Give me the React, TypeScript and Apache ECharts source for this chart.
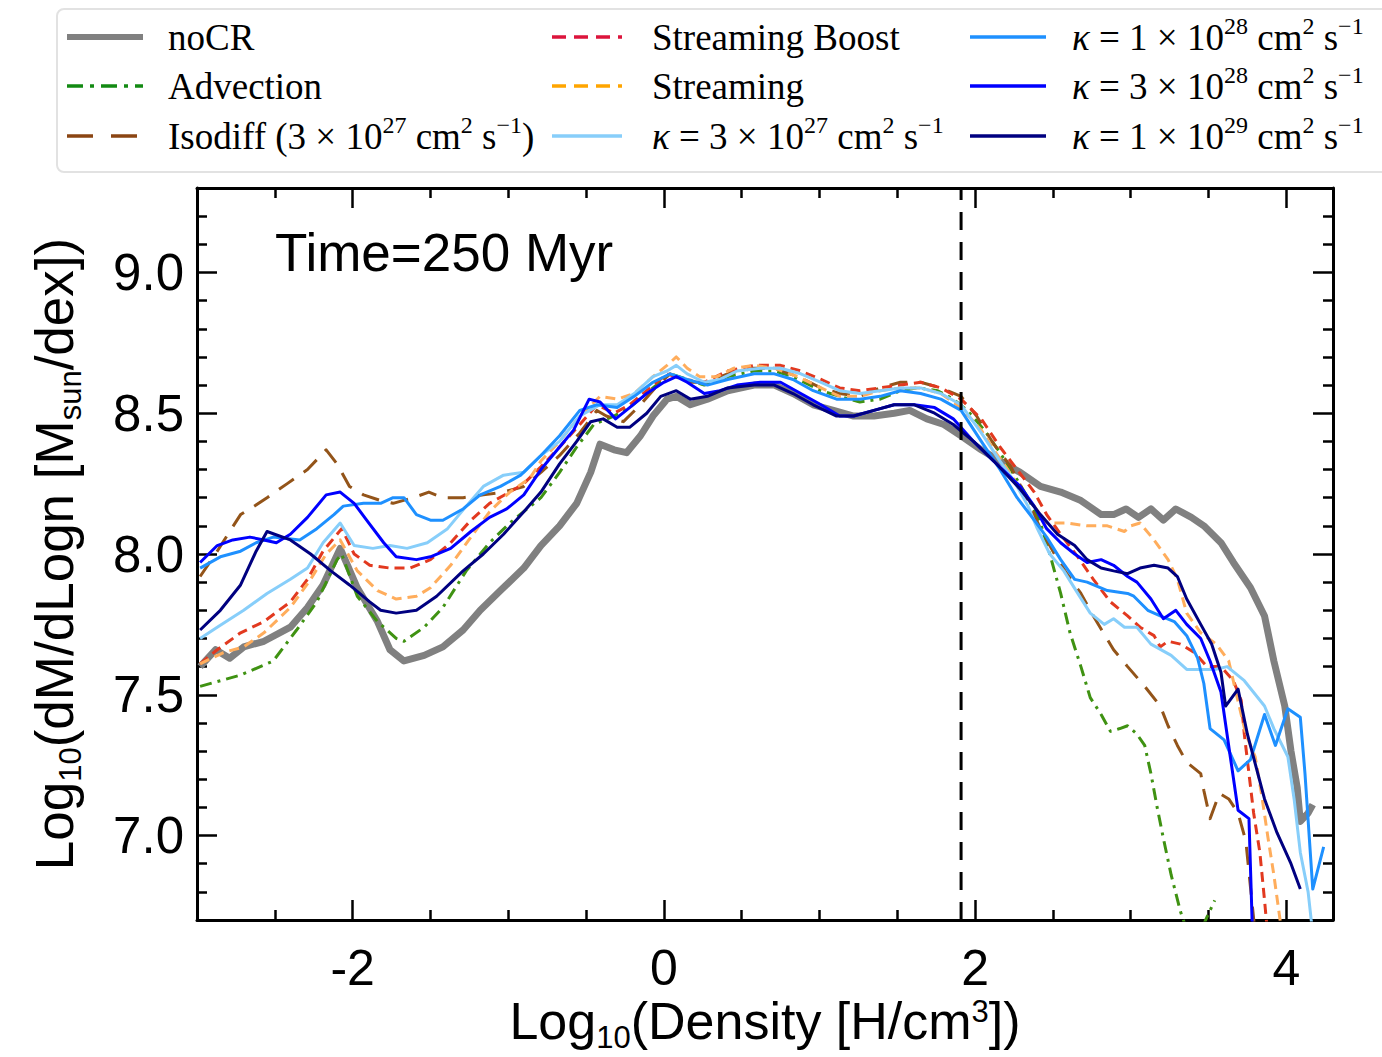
import React, { useEffect, useRef } from "react";
import * as echarts from "echarts";

// ---------- data ----------
const X_MIN = -3.0;
const X_MAX = 4.3;
const Y_MIN = 6.7;
const Y_MAX = 9.3;

const xLabelTicks = [-2, 0, 2, 4];
const xMinorTicks = [-2.5, -1.5, -1, -0.5, 0.5, 1, 1.5, 2.5, 3, 3.5];
const yLabelTicks = [7.0, 7.5, 8.0, 8.5, 9.0];
const yMinorTicks = [6.8, 6.9, 7.1, 7.2, 7.3, 7.4, 7.6, 7.7, 7.8, 7.9, 8.1, 8.2, 8.3, 8.4, 8.6, 8.7, 8.8, 8.9, 9.1, 9.2];

const densityCut = 1.91;
const timeLabel = "Time=250 Myr";

const noCR = [[-2.98,7.60],[-2.88,7.66],[-2.79,7.63],[-2.70,7.67],[-2.57,7.69],[-2.40,7.74],[-2.29,7.81],[-2.19,7.89],[-2.08,8.02],[-1.97,7.88],[-1.84,7.76],[-1.76,7.66],[-1.67,7.62],[-1.54,7.64],[-1.42,7.67],[-1.29,7.73],[-1.18,7.80],[-1.05,7.87],[-0.90,7.95],[-0.79,8.03],[-0.67,8.10],[-0.56,8.18],[-0.47,8.29],[-0.41,8.39],[-0.32,8.37],[-0.24,8.36],[-0.15,8.42],[-0.07,8.49],[0.02,8.55],[0.08,8.56],[0.17,8.53],[0.28,8.55],[0.41,8.58],[0.58,8.60],[0.71,8.60],[0.83,8.57],[0.96,8.53],[1.09,8.51],[1.22,8.49],[1.35,8.49],[1.48,8.50],[1.58,8.51],[1.69,8.48],[1.80,8.46],[1.91,8.42],[2.04,8.37],[2.16,8.33],[2.29,8.29],[2.42,8.24],[2.55,8.22],[2.68,8.19],[2.81,8.14],[2.89,8.14],[2.97,8.16],[3.05,8.13],[3.13,8.16],[3.21,8.12],[3.29,8.16],[3.39,8.13],[3.47,8.10],[3.58,8.04],[3.66,7.97],[3.77,7.88],[3.86,7.78],[3.92,7.62],[3.99,7.46],[4.03,7.30],[4.07,7.17],[4.09,7.05],[4.14,7.08],[4.17,7.11]];

const advection = [[-2.98,7.53],[-2.72,7.57],[-2.51,7.62],[-2.36,7.73],[-2.23,7.83],[-2.10,7.98],[-2.07,8.00],[-1.97,7.85],[-1.84,7.76],[-1.72,7.70],[-1.67,7.69],[-1.54,7.74],[-1.42,7.81],[-1.27,7.94],[-1.12,8.04],[-0.99,8.11],[-0.79,8.20],[-0.67,8.29],[-0.56,8.38],[-0.45,8.46],[-0.32,8.49],[-0.22,8.52],[-0.07,8.59],[0.04,8.64],[0.15,8.62],[0.26,8.60],[0.41,8.63],[0.58,8.65],[0.71,8.65],[0.83,8.63],[1.01,8.58],[1.13,8.56],[1.26,8.54],[1.39,8.55],[1.52,8.58],[1.63,8.59],[1.76,8.58],[1.86,8.55],[1.95,8.51],[2.06,8.44],[2.16,8.36],[2.23,8.30],[2.34,8.20],[2.42,8.11],[2.48,8.00],[2.55,7.86],[2.61,7.72],[2.68,7.60],[2.74,7.49],[2.81,7.43],[2.87,7.37],[2.93,7.38],[2.98,7.39],[3.04,7.36],[3.09,7.32],[3.13,7.22],[3.17,7.10],[3.21,6.99],[3.26,6.86],[3.32,6.73],[3.40,6.60],[3.49,6.71],[3.54,6.77]];

const isodiff = [[-2.98,7.92],[-2.87,8.01],[-2.79,8.08],[-2.72,8.14],[-2.66,8.16],[-2.55,8.20],[-2.42,8.25],[-2.29,8.30],[-2.17,8.37],[-2.10,8.32],[-2.02,8.24],[-1.93,8.21],[-1.82,8.19],[-1.74,8.18],[-1.61,8.20],[-1.51,8.22],[-1.42,8.20],[-1.29,8.20],[-1.16,8.21],[-1.03,8.22],[-0.90,8.24],[-0.79,8.29],[-0.67,8.35],[-0.54,8.43],[-0.43,8.51],[-0.37,8.49],[-0.26,8.47],[-0.15,8.53],[-0.04,8.60],[0.04,8.64],[0.15,8.61],[0.28,8.61],[0.41,8.64],[0.58,8.66],[0.71,8.66],[0.86,8.63],[1.01,8.59],[1.13,8.57],[1.26,8.56],[1.39,8.59],[1.52,8.61],[1.65,8.61],[1.78,8.59],[1.91,8.56],[2.01,8.49],[2.12,8.39],[2.23,8.31],[2.34,8.19],[2.42,8.09],[2.51,8.00],[2.59,7.93],[2.68,7.86],[2.76,7.78],[2.89,7.66],[2.98,7.60],[3.09,7.53],[3.19,7.46],[3.24,7.39],[3.30,7.32],[3.36,7.26],[3.45,7.22],[3.47,7.16],[3.51,7.06],[3.57,7.15],[3.63,7.13],[3.69,7.08],[3.74,6.98],[3.80,6.65]];

const streamingBoost = [[-2.98,7.61],[-2.87,7.66],[-2.72,7.72],[-2.57,7.76],[-2.40,7.83],[-2.29,7.91],[-2.19,8.01],[-2.10,8.07],[-2.07,8.09],[-1.99,8.00],[-1.89,7.96],[-1.76,7.95],[-1.63,7.95],[-1.50,7.98],[-1.37,8.04],[-1.24,8.12],[-1.12,8.18],[-0.99,8.22],[-0.90,8.25],[-0.79,8.31],[-0.67,8.38],[-0.54,8.46],[-0.43,8.53],[-0.32,8.50],[-0.22,8.53],[-0.11,8.58],[0.02,8.64],[0.13,8.62],[0.26,8.61],[0.41,8.65],[0.58,8.67],[0.75,8.67],[0.88,8.65],[1.01,8.62],[1.13,8.59],[1.26,8.58],[1.39,8.59],[1.52,8.60],[1.65,8.61],[1.78,8.59],[1.91,8.55],[2.04,8.48],[2.16,8.38],[2.27,8.30],[2.38,8.22],[2.46,8.14],[2.55,8.07],[2.66,7.99],[2.76,7.91],[2.87,7.83],[2.98,7.78],[3.06,7.74],[3.15,7.71],[3.19,7.67],[3.24,7.69],[3.32,7.68],[3.41,7.65],[3.49,7.60],[3.58,7.60],[3.66,7.55],[3.71,7.48],[3.73,7.36],[3.76,7.22],[3.79,7.08],[3.83,6.94],[3.86,6.77],[3.88,6.65]];

const streaming = [[-2.98,7.61],[-2.83,7.65],[-2.70,7.67],[-2.57,7.72],[-2.40,7.81],[-2.27,7.91],[-2.17,8.00],[-2.08,8.05],[-1.97,7.94],[-1.84,7.87],[-1.72,7.84],[-1.59,7.85],[-1.50,7.88],[-1.37,7.96],[-1.24,8.06],[-1.12,8.15],[-0.99,8.22],[-0.86,8.27],[-0.79,8.33],[-0.67,8.40],[-0.54,8.49],[-0.41,8.56],[-0.30,8.55],[-0.19,8.57],[-0.07,8.63],[0.02,8.67],[0.08,8.70],[0.15,8.66],[0.23,8.63],[0.34,8.63],[0.45,8.66],[0.58,8.67],[0.71,8.66],[0.86,8.63],[1.01,8.59],[1.13,8.56],[1.26,8.56],[1.39,8.58],[1.52,8.59],[1.65,8.59],[1.78,8.57],[1.91,8.52],[2.04,8.44],[2.12,8.37],[2.21,8.30],[2.29,8.23],[2.38,8.17],[2.46,8.11],[2.59,8.11],[2.72,8.10],[2.85,8.10],[2.96,8.08],[3.00,8.10],[3.06,8.11],[3.15,8.05],[3.24,7.98],[3.30,7.91],[3.36,7.79],[3.45,7.72],[3.55,7.68],[3.63,7.62],[3.68,7.50],[3.74,7.36],[3.80,7.28],[3.84,7.15],[3.88,7.00],[3.92,6.86],[3.96,6.70],[3.98,6.62]];

const kappa3e27 = [[-2.98,7.70],[-2.87,7.74],[-2.70,7.80],[-2.55,7.86],[-2.40,7.91],[-2.29,7.95],[-2.19,8.04],[-2.08,8.11],[-1.99,8.03],[-1.87,8.02],[-1.76,8.03],[-1.65,8.02],[-1.52,8.04],[-1.39,8.09],[-1.27,8.17],[-1.16,8.24],[-1.03,8.28],[-0.90,8.29],[-0.79,8.35],[-0.67,8.40],[-0.54,8.49],[-0.41,8.53],[-0.30,8.53],[-0.19,8.57],[-0.07,8.63],[0.02,8.65],[0.08,8.67],[0.15,8.64],[0.26,8.61],[0.36,8.62],[0.47,8.65],[0.62,8.66],[0.75,8.66],[0.88,8.64],[1.01,8.61],[1.13,8.58],[1.26,8.57],[1.39,8.58],[1.52,8.59],[1.65,8.59],[1.78,8.57],[1.91,8.53],[2.04,8.43],[2.16,8.33],[2.25,8.26],[2.34,8.17],[2.40,8.09],[2.48,8.00],[2.57,7.94],[2.66,7.86],[2.74,7.79],[2.83,7.75],[2.89,7.77],[2.96,7.74],[3.04,7.74],[3.13,7.68],[3.26,7.64],[3.36,7.59],[3.45,7.59],[3.54,7.59],[3.62,7.60],[3.73,7.55],[3.86,7.46],[3.92,7.38],[4.01,7.28],[4.05,7.13],[4.09,6.94],[4.14,6.80],[4.16,6.70],[4.18,6.62]];

const kappa1e28 = [[-2.98,7.95],[-2.85,7.99],[-2.72,8.01],[-2.62,8.04],[-2.51,8.06],[-2.34,8.05],[-2.23,8.09],[-2.12,8.14],[-2.06,8.17],[-1.93,8.18],[-1.82,8.18],[-1.74,8.20],[-1.67,8.20],[-1.59,8.14],[-1.50,8.12],[-1.42,8.12],[-1.29,8.16],[-1.18,8.21],[-1.05,8.24],[-0.92,8.28],[-0.79,8.35],[-0.67,8.42],[-0.54,8.51],[-0.43,8.53],[-0.30,8.52],[-0.19,8.56],[-0.07,8.61],[0.04,8.64],[0.15,8.62],[0.28,8.60],[0.41,8.62],[0.58,8.64],[0.71,8.64],[0.83,8.62],[0.96,8.58],[1.11,8.55],[1.26,8.55],[1.39,8.56],[1.52,8.58],[1.65,8.57],[1.78,8.55],[1.91,8.51],[2.04,8.40],[2.16,8.30],[2.27,8.20],[2.38,8.12],[2.46,8.06],[2.55,7.98],[2.64,7.91],[2.72,7.90],[2.85,7.87],[2.98,7.86],[3.02,7.85],[3.11,7.80],[3.19,7.78],[3.28,7.76],[3.36,7.71],[3.43,7.63],[3.47,7.54],[3.51,7.38],[3.60,7.34],[3.69,7.23],[3.77,7.27],[3.86,7.43],[3.93,7.32],[4.01,7.45],[4.09,7.42],[4.12,7.22],[4.17,6.81],[4.24,6.96]];

const kappa3e28 = [[-2.98,7.97],[-2.87,8.03],[-2.77,8.05],[-2.66,8.06],[-2.57,8.05],[-2.49,8.04],[-2.40,8.07],[-2.29,8.13],[-2.17,8.21],[-2.08,8.22],[-1.99,8.18],[-1.91,8.12],[-1.80,8.04],[-1.72,7.99],[-1.59,7.98],[-1.50,7.99],[-1.37,8.02],[-1.24,8.08],[-1.12,8.13],[-1.01,8.16],[-0.90,8.21],[-0.79,8.30],[-0.67,8.38],[-0.58,8.44],[-0.48,8.55],[-0.41,8.54],[-0.31,8.48],[-0.22,8.52],[-0.11,8.57],[0.00,8.61],[0.08,8.63],[0.15,8.61],[0.26,8.57],[0.36,8.58],[0.47,8.60],[0.62,8.61],[0.75,8.61],[0.88,8.57],[1.01,8.53],[1.13,8.49],[1.22,8.49],[1.35,8.51],[1.48,8.53],[1.61,8.53],[1.74,8.52],[1.86,8.48],[1.99,8.40],[2.12,8.33],[2.29,8.24],[2.38,8.17],[2.46,8.09],[2.55,8.04],[2.64,8.00],[2.72,7.97],[2.81,7.98],[2.89,7.96],[2.98,7.92],[3.04,7.90],[3.13,7.84],[3.21,7.77],[3.29,7.80],[3.36,7.75],[3.45,7.70],[3.51,7.62],[3.58,7.51],[3.64,7.28],[3.69,7.09],[3.76,7.06],[3.78,6.70],[3.79,6.60]];

const kappa1e29 = [[-2.98,7.73],[-2.85,7.80],[-2.72,7.89],[-2.62,8.01],[-2.55,8.08],[-2.40,8.05],[-2.27,8.00],[-2.14,7.94],[-2.02,7.89],[-1.89,7.83],[-1.82,7.80],[-1.72,7.79],[-1.59,7.80],[-1.46,7.85],[-1.29,7.94],[-1.16,8.00],[-1.03,8.07],[-0.90,8.15],[-0.79,8.22],[-0.67,8.32],[-0.56,8.40],[-0.47,8.47],[-0.39,8.48],[-0.30,8.45],[-0.22,8.45],[-0.11,8.50],[-0.02,8.56],[0.08,8.58],[0.17,8.55],[0.28,8.56],[0.41,8.59],[0.58,8.60],[0.71,8.60],[0.83,8.57],[0.96,8.53],[1.11,8.49],[1.22,8.49],[1.35,8.51],[1.48,8.53],[1.61,8.53],[1.74,8.50],[1.86,8.46],[1.99,8.40],[2.12,8.33],[2.29,8.23],[2.42,8.14],[2.53,8.07],[2.64,8.03],[2.72,7.98],[2.81,7.95],[2.89,7.94],[2.98,7.93],[3.06,7.95],[3.15,7.96],[3.24,7.95],[3.30,7.92],[3.36,7.84],[3.45,7.75],[3.52,7.68],[3.58,7.58],[3.61,7.46],[3.69,7.52],[3.75,7.36],[3.86,7.13],[3.94,7.01],[4.03,6.90],[4.09,6.81]];

// series meta, drawing order
const seriesNames = ["noCR", "Advection", "Isodiff", "Streaming Boost", "Streaming", "kappa 3e27", "kappa 1e28", "kappa 3e28", "kappa 1e29"];
const seriesData = [noCR, advection, isodiff, streamingBoost, streaming, kappa3e27, kappa1e28, kappa3e28, kappa1e29];
const lineColors = ["#808080", "#3f9212", "#935419", "#e2391f", "#ffad5c", "#87cefa", "#1e90ff", "#0000ff", "#000080"];
const legendColors = ["#808080", "#138a13", "#8b4513", "#dc143c", "#ffa500", "#87cefa", "#1e90ff", "#0000ff", "#000080"];
const lineWidths = [7, 3, 3, 3, 3, 3, 3, 3, 3];
const lineDashes: any[] = ["solid", [12, 6, 3, 6], [18, 12], [10, 6], [10, 6], "solid", "solid", "solid", "solid"];
const legendDashes: any[] = [null, [16, 7, 4, 7], [26, 18], [14, 8], [14, 8], null, null, null, null];

// legend layout: column-major order, rich-text labels
const legendLabels = [
  "noCR",
  "Advection",
  "Isodiff (3 × 10{s|27} cm{s|2} s{s|−1})",
  "Streaming Boost",
  "Streaming",
  "{i|κ} = 3 × 10{s|27} cm{s|2} s{s|−1}",
  "{i|κ} = 1 × 10{s|28} cm{s|2} s{s|−1}",
  "{i|κ} = 3 × 10{s|28} cm{s|2} s{s|−1}",
  "{i|κ} = 1 × 10{s|29} cm{s|2} s{s|−1}",
];
const legendColX = [67, 552, 970];
const legendLineLen = [76, 70, 76];
const legendTextX = [168, 652, 1072];
const legendRowY = [37, 86, 136];

const FONT_SANS = '"Liberation Sans", Arial, Helvetica, sans-serif';
const FONT_SERIF = '"Liberation Serif", "Times New Roman", serif';

function buildOption() {
  const GRID = { left: 197, top: 188, width: 1136, height: 732, outerBoundsMode: "none", containLabel: false };

  const lineSt = { color: "#000", width: 3 };
  const tickSt = { color: "#000", width: 2.5 };

  const xAxis = [
    {
      gridIndex: 0, type: "value", position: "bottom", min: X_MIN, max: X_MAX,
      axisLine: { show: true, onZero: false, lineStyle: lineSt },
      axisTick: { show: true, inside: true, length: 20, lineStyle: tickSt, customValues: xLabelTicks },
      axisLabel: { show: true, customValues: xLabelTicks, formatter: (v: number) => String(v), fontSize: 50, lineHeight: 40, fontFamily: FONT_SANS, color: "#000", margin: 28 },
      splitLine: { show: false },
    },
    {
      gridIndex: 0, type: "value", position: "top", min: X_MIN, max: X_MAX,
      axisLine: { show: true, onZero: false, lineStyle: lineSt },
      axisTick: { show: true, inside: true, length: 20, lineStyle: tickSt, customValues: xLabelTicks },
      axisLabel: { show: false },
      splitLine: { show: false },
    },
    {
      gridIndex: 1, type: "value", position: "bottom", min: X_MIN, max: X_MAX,
      axisLine: { show: false, onZero: false },
      axisTick: { show: true, inside: true, length: 10, lineStyle: tickSt, customValues: xMinorTicks },
      axisLabel: { show: false },
      splitLine: { show: false },
    },
    {
      gridIndex: 1, type: "value", position: "top", min: X_MIN, max: X_MAX,
      axisLine: { show: false, onZero: false },
      axisTick: { show: true, inside: true, length: 10, lineStyle: tickSt, customValues: xMinorTicks },
      axisLabel: { show: false },
      splitLine: { show: false },
    },
  ];

  const yAxis = [
    {
      gridIndex: 0, type: "value", position: "left", min: Y_MIN, max: Y_MAX,
      axisLine: { show: true, onZero: false, lineStyle: lineSt },
      axisTick: { show: true, inside: true, length: 20, lineStyle: tickSt, customValues: yLabelTicks },
      axisLabel: { show: true, customValues: yLabelTicks, formatter: (v: number) => v.toFixed(1), fontSize: 51, fontFamily: FONT_SANS, color: "#000", margin: 13 },
      splitLine: { show: false },
    },
    {
      gridIndex: 0, type: "value", position: "right", min: Y_MIN, max: Y_MAX,
      axisLine: { show: true, onZero: false, lineStyle: lineSt },
      axisTick: { show: true, inside: true, length: 20, lineStyle: tickSt, customValues: yLabelTicks },
      axisLabel: { show: false },
      splitLine: { show: false },
    },
    {
      gridIndex: 1, type: "value", position: "left", min: Y_MIN, max: Y_MAX,
      axisLine: { show: false, onZero: false },
      axisTick: { show: true, inside: true, length: 10, lineStyle: tickSt, customValues: yMinorTicks },
      axisLabel: { show: false },
      splitLine: { show: false },
    },
    {
      gridIndex: 1, type: "value", position: "right", min: Y_MIN, max: Y_MAX,
      axisLine: { show: false, onZero: false },
      axisTick: { show: true, inside: true, length: 10, lineStyle: tickSt, customValues: yMinorTicks },
      axisLabel: { show: false },
      splitLine: { show: false },
    },
  ];

  const series: any[] = seriesData.map((d, i) => ({
    name: seriesNames[i],
    type: "line",
    xAxisIndex: 0,
    yAxisIndex: 0,
    data: d,
    showSymbol: false,
    symbol: "none",
    clip: true,
    smooth: false,
    lineStyle: { color: lineColors[i], width: lineWidths[i], type: lineDashes[i], cap: "butt", join: "round" },
    z: 2 + i,
  }));

  series.push({
    name: "density cut",
    type: "line",
    xAxisIndex: 0,
    yAxisIndex: 0,
    data: [[densityCut, Y_MIN], [densityCut, Y_MAX]],
    showSymbol: false,
    symbol: "none",
    clip: true,
    lineStyle: { color: "#000", width: 3, type: [18, 12] },
    z: 20,
  });

  // graphics: legend box, legend entries, title, axis names
  const graphic: any[] = [];
  graphic.push({
    type: "rect",
    shape: { x: 57, y: 9, width: 1345, height: 163, r: 7 },
    style: { fill: "#fff", stroke: "#e2e2e2", lineWidth: 2 },
    z: 1,
  });

  const richLegend = {
    s: { fontSize: 24, fontFamily: FONT_SERIF, verticalAlign: "top", lineHeight: 24, fill: "#000" },
    i: { fontSize: 37, fontFamily: FONT_SERIF, fontStyle: "italic", lineHeight: 46, fill: "#000" },
  };

  legendLabels.forEach((lab, i) => {
    const col = Math.floor(i / 3);
    const row = i % 3;
    const y = legendRowY[row];
    const x0 = legendColX[col];
    const lineStyle: any = { stroke: legendColors[i], lineWidth: i === 0 ? 6 : 3.5 };
    if (legendDashes[i]) lineStyle.lineDash = legendDashes[i];
    graphic.push({
      type: "line",
      shape: { x1: x0, y1: y, x2: x0 + legendLineLen[col], y2: y },
      style: lineStyle,
      z: 2,
    });
    graphic.push({
      type: "text",
      x: legendTextX[col],
      y: y,
      style: {
        text: lab,
        rich: richLegend,
        fontSize: 37,
        fontFamily: FONT_SERIF,
        lineHeight: 46,
        fill: "#000",
        align: "left",
        verticalAlign: "middle",
      },
      z: 2,
    });
  });

  graphic.push({
    type: "text",
    x: 275,
    y: 252,
    style: { text: timeLabel, fontSize: 53, fontFamily: FONT_SANS, fill: "#000", align: "left", verticalAlign: "middle" },
    z: 30,
  });

  // sub/superscripts shifted with asymmetric padding around the line centre
  const richAxis = {
    b: { fontSize: 31, fontFamily: FONT_SANS, verticalAlign: "middle", lineHeight: 30, padding: [32, 0, 0, 0], fill: "#000" },
    t: { fontSize: 31, fontFamily: FONT_SANS, verticalAlign: "middle", lineHeight: 30, padding: [0, 0, 20, 0], fill: "#000" },
  };

  graphic.push({
    type: "text",
    x: 765,
    y: 1021,
    style: {
      text: "Log{b|10}(Density [H/cm{t|3}])",
      rich: richAxis,
      fontSize: 52,
      fontFamily: FONT_SANS,
      lineHeight: 48,
      fill: "#000",
      align: "center",
      verticalAlign: "middle",
    },
    z: 30,
  });

  graphic.push({
    type: "text",
    x: 54,
    y: 554,
    rotation: Math.PI / 2,
    style: {
      text: "Log{b|10}(dM/dLogn [M{b|sun}/dex])",
      rich: richAxis,
      fontSize: 53,
      fontFamily: FONT_SANS,
      lineHeight: 56,
      fill: "#000",
      align: "center",
      verticalAlign: "middle",
    },
    z: 30,
  });

  return {
    animation: false,
    backgroundColor: "#ffffff",
    grid: [GRID, { ...GRID }],
    xAxis,
    yAxis,
    series,
    graphic,
  };
}

export default function App() {
  const ref = useRef<HTMLDivElement | null>(null);
  useEffect(() => {
    if (!ref.current) return;
    const chart = echarts.init(ref.current, undefined, { renderer: "svg" });
    chart.setOption(buildOption() as any);
    return () => {
      chart.dispose();
    };
  }, []);
  return (
    <div
      ref={ref}
      style={{ position: "absolute", left: 0, top: 0, width: 1382, height: 1057, background: "#fff" }}
    />
  );
}
